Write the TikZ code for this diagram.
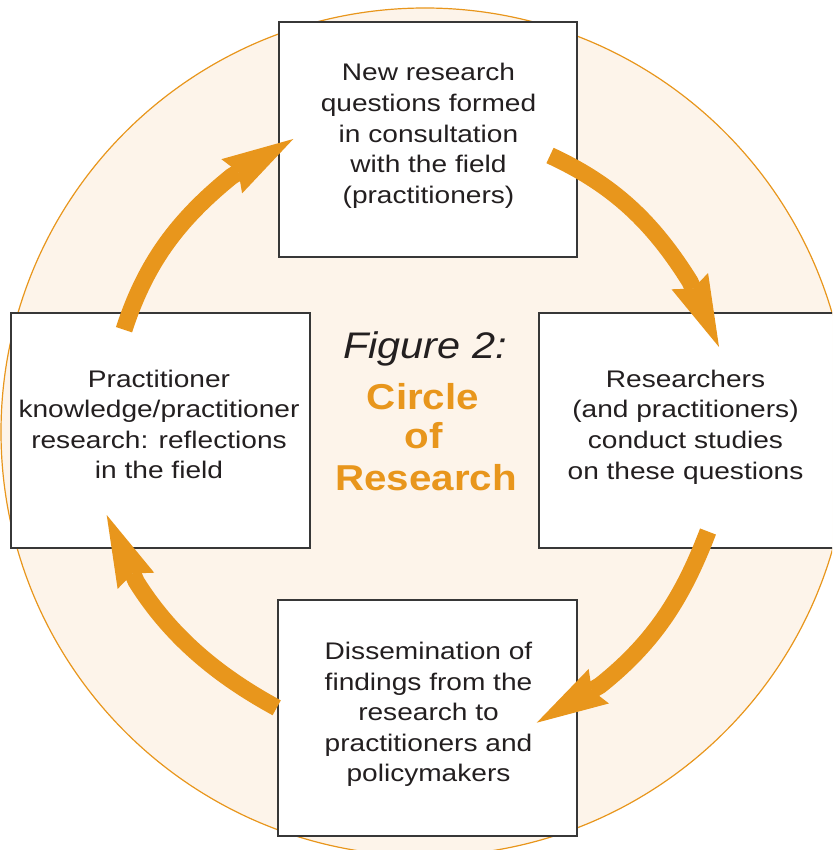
\documentclass[tikz,border=0pt]{standalone}
\usepackage{fontspec}
\setmainfont{Liberation Sans}
\newfontfamily\bodyfont[FakeStretch=1.17]{Liberation Sans}
\newfontfamily\headfont[FakeStretch=1.12]{Liberation Sans}
\usetikzlibrary{arrows.meta}
\definecolor{cor}{RGB}{232,150,28}
\definecolor{peach}{RGB}{253,244,234}
\definecolor{edgegray}{RGB}{55,55,55}
\definecolor{ink}{RGB}{35,31,32}
\begin{document}
\begin{tikzpicture}[x=1pt,y=-1pt,
  ring/.style={circle, draw=cor, line width=1.2pt, fill=peach, minimum size=848pt, inner sep=0pt},
  stagebox/.style={rectangle, draw=edgegray, line width=1.4pt, fill=white, minimum height=235pt, inner sep=0pt},
  bodytext/.style={font=\bodyfont\fontsize{24}{30.6}\selectfont, text=ink, align=center, inner sep=0pt},
  figlabel/.style={font=\headfont\itshape\fontsize{37}{40}\selectfont, text=ink, inner sep=0pt, anchor=base},
  headline/.style={font=\headfont\bfseries\fontsize{36}{40}\selectfont, text=cor, inner sep=0pt, anchor=base},
  flow/.style={draw=cor, line width=17pt, line join=round,
    -{Stealth[length=72pt, width=40pt, inset=8pt, line width=0pt]}}]
\useasboundingbox (0,0) rectangle (832,850);
\clip (0,0) rectangle (832,850);
\node[ring] (bg) at (425,432) {};
% boxes
\node[stagebox, minimum width=298pt] (top) at (428,139.5) {};
\node[stagebox, minimum width=299pt] (left) at (160.5,430.5) {};
\node[stagebox, minimum width=295pt] (right) at (686.5,430.5) {};
\node[stagebox, minimum width=299pt, minimum height=236pt] (bottom) at (427.5,718) {};
% box texts
\node[bodytext] (toptext) at (428.5,135.9) {New research\\questions formed\\in consultation\\with the field\\(practitioners)};
\node[bodytext] (lefttext) at (159,424.4) {Practitioner\\knowledge/practitioner\\research: reflections\\in the field};
\node[bodytext] (righttext) at (685.5,426.9) {Researchers\\(and practitioners)\\conduct studies\\on these questions};
\node[bodytext] (bottomtext) at (428.5,714.4) {Dissemination of\\findings from the\\research to\\practitioners and\\policymakers};
% title
\node[figlabel] (fig) at (425,358) {Figure 2:};
\node[headline] (t1) at (423,409) {Circle};
\node[headline] (t2) at (424,448) {of};
\node[headline] (t3) at (426,490) {Research};
% arrow coordinates
\coordinate (a1t) at (124,329.7);
\coordinate (a1c) at (145.7,263.2);
\coordinate (a1d) at (177.3,220.4);
\coordinate (a1b) at (231.7,176.3);
\coordinate (a1h) at (293.3,139);
\coordinate (a2t) at (550,155.5);
\coordinate (a2c) at (613.7,184.9);
\coordinate (a2d) at (652.9,222.3);
\coordinate (a2b) at (690,281.7);
\coordinate (a2h) at (719,347);
\coordinate (a3t) at (708,531.5);
\coordinate (a3c) at (683.1,596.7);
\coordinate (a3d) at (654.8,641.9);
\coordinate (a3b) at (600,685.5);
\coordinate (a3h) at (536.7,722.7);
\coordinate (a4t) at (276.7,707.8);
\coordinate (a4c) at (224,679.1);
\coordinate (a4d) at (173.4,641.1);
\coordinate (a4b) at (136.3,581.7);
\coordinate (a4h) at (106.7,515);
% arrows
\draw[flow] (a1t) .. controls (a1c) and (a1d) .. (a1b) -- (a1h);
\draw[flow] (a2t) .. controls (a2c) and (a2d) .. (a2b) -- (a2h);
\draw[flow] (a3t) .. controls (a3c) and (a3d) .. (a3b) -- (a3h);
\draw[flow] (a4t) .. controls (a4c) and (a4d) .. (a4b) -- (a4h);
\end{tikzpicture}
\end{document}
